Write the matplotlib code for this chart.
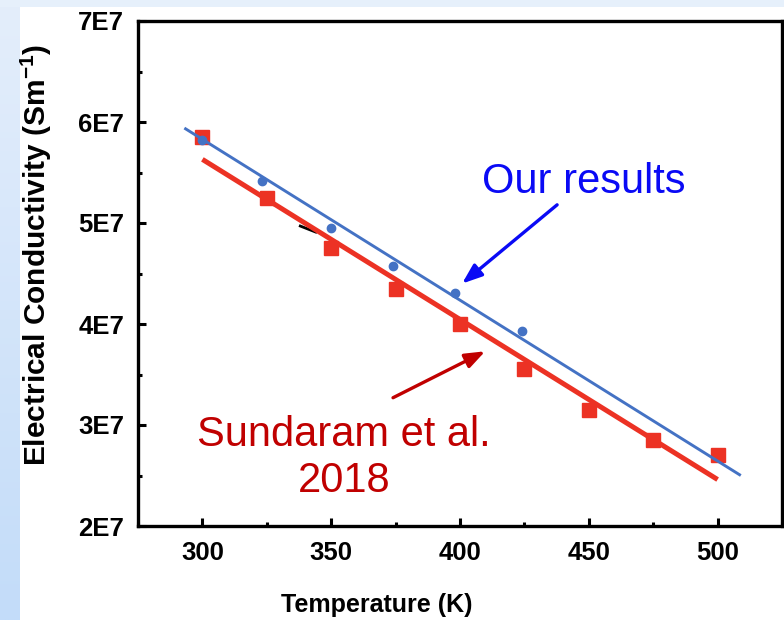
import numpy as np
import matplotlib
matplotlib.use("Agg")
import matplotlib.pyplot as plt
from matplotlib.ticker import MultipleLocator, FuncFormatter

# Data
ours_T = [300, 323, 350, 374, 398, 424]
ours_sigma = [5.82e7, 5.42e7, 4.95e7, 4.57e7, 4.31e7, 3.93e7]
ours_fit_T = [293, 509]
ours_fit_sigma = [5.94e7, 2.50e7]

sund_T = [300, 325, 350, 375, 400, 425, 450, 475, 500]
sund_sigma = [5.85e7, 5.25e7, 4.75e7, 4.35e7, 4.00e7, 3.55e7, 3.15e7, 2.85e7, 2.70e7]
sund_fit_T = [300, 500]
sund_fit_sigma = [5.63e7, 2.46e7]

# stray black mark left in the original figure
stray_T = [338, 344]
stray_sigma = [4.97e7, 4.91e7]

plt.rcParams["font.family"] = ["Liberation Sans", "DejaVu Sans"]
plt.rcParams["mathtext.fontset"] = "custom"
plt.rcParams["mathtext.rm"] = "Liberation Sans"
plt.rcParams["mathtext.bf"] = "Liberation Sans:bold"

fig = plt.figure(figsize=(7.84, 6.2), dpi=100, facecolor="white")

# light blue slide background strips
bg_left = fig.add_axes([0, 0, 20 / 784, 1])
grad = np.linspace(0, 1, 256).reshape(-1, 1)
bg_left.imshow(grad, aspect="auto", cmap=matplotlib.colors.LinearSegmentedColormap.from_list(
    "bg", ["#e4eefb", "#c3dcf9"]), extent=[0, 1, 0, 1])
bg_left.axis("off")
bg_top = fig.add_axes([0, 1 - 7 / 620, 1, 7 / 620])
bg_top.set_facecolor("#e6f0fb")
bg_top.set_xticks([])
bg_top.set_yticks([])
for s in bg_top.spines.values():
    s.set_visible(False)

ax = fig.add_axes([138 / 784, 1 - 526 / 620, 644 / 784, 505 / 620])

red = "#ec3224"
blue = "#4472c4"
ax.plot(sund_fit_T, sund_fit_sigma, color=red, lw=3.6, zorder=2, solid_capstyle="butt")
ax.plot(sund_T, sund_sigma, "s", color=red, ms=10.5, zorder=3)
ax.plot(ours_fit_T, ours_fit_sigma, color=blue, lw=2.1, zorder=4, solid_capstyle="butt")
ax.plot(ours_T, ours_sigma, "o", color=blue, ms=6, zorder=5)
ax.plot(stray_T, stray_sigma, color="black", lw=2, zorder=1)

ax.set_xlim(275, 525)
ax.set_ylim(2e7, 7e7)
ax.xaxis.set_major_locator(MultipleLocator(50))
ax.xaxis.set_minor_locator(MultipleLocator(25))
ax.yaxis.set_major_locator(MultipleLocator(1e7))
ax.yaxis.set_minor_locator(MultipleLocator(0.5e7))
ax.yaxis.set_major_formatter(FuncFormatter(lambda v, p: f"{v / 1e7:.0f}E7"))

ax.tick_params(which="major", direction="in", length=5.5, width=2.2, pad=10)
ax.tick_params(which="minor", direction="in", length=3, width=2.2)
ax.tick_params(axis="x", which="major", pad=11)
for lab in ax.get_xticklabels() + ax.get_yticklabels():
    lab.set_fontweight("bold")
    lab.set_fontsize(18.5)
for s in ax.spines.values():
    s.set_linewidth(2.4)

ax.set_xlabel("Temperature (K)", fontsize=18, fontweight="bold")
ax.xaxis.set_label_coords(0.37, -0.133)
ax.set_ylabel(r"Electrical Conductivity (Sm$^{\mathbf{-1}}$)", fontsize=21.5, fontweight="bold")
ax.yaxis.set_label_coords(-0.13, 0.537)

ax.text(448, 5.30e7, "Our results", color="#0a0af5", fontsize=30, ha="center", va="baseline")
ax.text(355, 2.337e7, "Sundaram et al.\n2018", color="#c00000", fontsize=30, ha="center",
        va="baseline", linespacing=1.2)

ax.annotate("", xy=(400.8, 4.40e7), xytext=(437.7, 5.18e7),
            arrowprops=dict(arrowstyle="-|>,head_length=1.2,head_width=0.45", color="#0a0af5",
                            lw=2.4, shrinkA=0, shrinkB=0, mutation_scale=10))
ax.annotate("", xy=(409.8, 3.73e7), xytext=(374.0, 3.27e7),
            arrowprops=dict(arrowstyle="-|>,head_length=1.2,head_width=0.45", color="#c00000",
                            lw=2.4, shrinkA=0, shrinkB=0, mutation_scale=10))

fig.savefig("out.png", dpi=100, facecolor="white")
